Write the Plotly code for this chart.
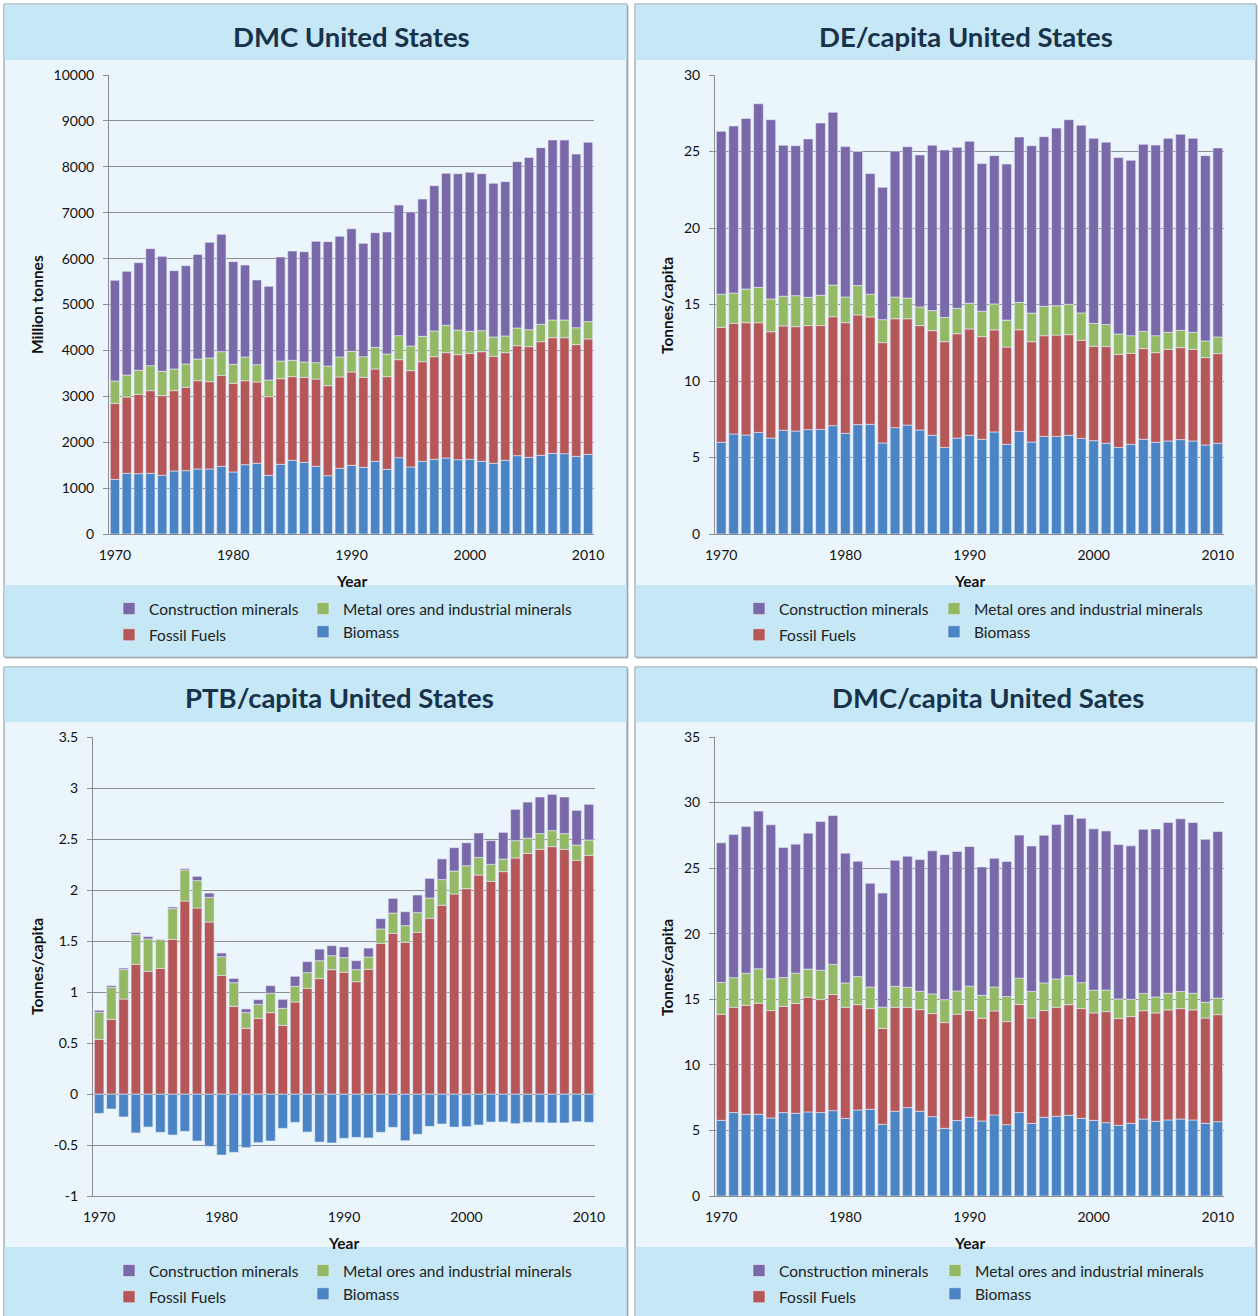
import plotly.graph_objects as go

years = list(range(1970, 2011))

# ---------------- DMC United States (Million tonnes) ----------------
dmc_biomass = [1191, 1322, 1314, 1322, 1278, 1373, 1380, 1416, 1416, 1474,
               1351, 1510, 1540, 1278, 1518, 1605, 1561, 1474, 1271, 1431,
               1496, 1452, 1583, 1409, 1663, 1460, 1583, 1627, 1656, 1619,
               1627, 1583, 1540, 1605, 1707, 1670, 1714, 1757, 1750, 1692, 1736]
dmc_fossil = [1656, 1663, 1728, 1801, 1736, 1750, 1816, 1924, 1903, 1983,
              1932, 1830, 1772, 1714, 1866, 1823, 1852, 1903, 1961, 1990,
              2033, 1961, 2012, 2019, 2135, 2099, 2171, 2237, 2295, 2288,
              2309, 2389, 2331, 2346, 2396, 2411, 2476, 2520, 2527, 2433, 2513]
dmc_metal = [487, 479, 523, 545, 530, 472, 508, 472, 516, 516,
             414, 516, 378, 363, 385, 356, 334, 356, 428, 436,
             450, 450, 472, 494, 523, 537, 552, 559, 595, 537,
             479, 458, 421, 363, 385, 370, 378, 385, 385, 370, 378]
dmc_constr = [2193, 2258, 2346, 2549, 2505, 2142, 2142, 2280, 2520, 2556,
              2237, 2004, 1845, 2041, 2266, 2382, 2404, 2643, 2709, 2629,
              2672, 2469, 2498, 2658, 2847, 2919, 2992, 3166, 3311, 3406,
              3464, 3420, 3348, 3362, 3624, 3754, 3849, 3921, 3921, 3783, 3907]

# ---------------- DE/capita United States ----------------
de_biomass = [5.99, 6.54, 6.47, 6.64, 6.27, 6.78, 6.73, 6.82, 6.84, 7.08,
              6.58, 7.15, 7.17, 5.95, 6.95, 7.12, 6.80, 6.45, 5.66, 6.27,
              6.45, 6.19, 6.67, 5.86, 6.71, 6.01, 6.38, 6.38, 6.45, 6.25,
              6.10, 5.93, 5.66, 5.86, 6.19, 5.99, 6.08, 6.17, 6.08, 5.82, 5.93]
de_fossil = [7.52, 7.23, 7.34, 7.17, 6.95, 6.82, 6.82, 6.80, 6.78, 7.12,
             7.23, 7.17, 7.02, 6.56, 7.12, 6.95, 6.82, 6.84, 6.91, 6.82,
             6.95, 6.71, 6.67, 6.36, 6.64, 6.56, 6.58, 6.62, 6.58, 6.41,
             6.17, 6.32, 6.08, 5.95, 5.93, 5.86, 5.99, 6.01, 5.99, 5.71, 5.86]
de_metal = [2.16, 1.98, 2.20, 2.31, 2.14, 1.94, 2.03, 1.85, 1.98, 2.07,
            1.68, 1.92, 1.48, 1.50, 1.42, 1.35, 1.22, 1.31, 1.59, 1.66,
            1.68, 1.66, 1.70, 1.76, 1.79, 1.87, 1.92, 1.92, 1.98, 1.79,
            1.50, 1.44, 1.33, 1.15, 1.13, 1.11, 1.11, 1.13, 1.11, 1.09, 1.09]
de_constr = [10.65, 10.92, 11.15, 12.00, 11.72, 9.87, 9.80, 10.35, 11.26, 11.29,
             9.83, 8.76, 7.89, 8.65, 9.54, 9.89, 9.93, 10.81, 10.94, 10.52,
             10.59, 9.65, 9.69, 10.20, 10.81, 10.94, 11.09, 11.61, 12.07, 12.27,
             12.09, 11.92, 11.53, 11.46, 12.22, 12.46, 12.68, 12.81, 12.68, 12.11, 12.35]

# ---------------- PTB/capita United States ----------------
ptb_biomass = [-0.190, -0.147, -0.225, -0.382, -0.324, -0.376, -0.402, -0.366, -0.461, -0.513,
               -0.598, -0.572, -0.526, -0.477, -0.461, -0.337, -0.278, -0.373, -0.471, -0.480,
               -0.435, -0.425, -0.431, -0.376, -0.327, -0.458, -0.395, -0.317, -0.294, -0.324,
               -0.320, -0.304, -0.275, -0.275, -0.291, -0.278, -0.281, -0.284, -0.284, -0.271, -0.278]
ptb_fossil = [0.536, 0.732, 0.931, 1.271, 1.203, 1.232, 1.516, 1.892, 1.824, 1.686,
              1.163, 0.859, 0.644, 0.742, 0.797, 0.673, 0.902, 1.036, 1.131, 1.219,
              1.193, 1.101, 1.222, 1.477, 1.575, 1.487, 1.585, 1.722, 1.850, 1.961,
              2.013, 2.147, 2.085, 2.180, 2.314, 2.359, 2.399, 2.425, 2.399, 2.291, 2.340]
ptb_metal = [0.265, 0.314, 0.291, 0.291, 0.317, 0.281, 0.301, 0.304, 0.268, 0.242,
             0.183, 0.232, 0.154, 0.137, 0.190, 0.167, 0.154, 0.154, 0.176, 0.137,
             0.144, 0.118, 0.121, 0.141, 0.199, 0.163, 0.193, 0.199, 0.252, 0.225,
             0.225, 0.173, 0.167, 0.124, 0.170, 0.150, 0.154, 0.157, 0.154, 0.150, 0.150]
ptb_constr = [0.020, 0.016, 0.013, 0.020, 0.023, 0.005, 0.016, 0.013, 0.042, 0.042,
              0.036, 0.042, 0.036, 0.046, 0.075, 0.088, 0.098, 0.108, 0.114, 0.098,
              0.105, 0.088, 0.088, 0.101, 0.144, 0.137, 0.173, 0.193, 0.203, 0.229,
              0.225, 0.239, 0.232, 0.261, 0.307, 0.353, 0.359, 0.356, 0.359, 0.340, 0.350]

# ---------------- DMC/capita United States ----------------
dmcc_biomass = [5.77, 6.36, 6.23, 6.23, 5.95, 6.36, 6.31, 6.41, 6.36, 6.51,
                5.92, 6.56, 6.61, 5.47, 6.46, 6.74, 6.46, 6.05, 5.16, 5.75,
                6.00, 5.72, 6.18, 5.44, 6.36, 5.54, 6.00, 6.08, 6.15, 5.92,
                5.77, 5.59, 5.39, 5.54, 5.87, 5.70, 5.80, 5.87, 5.80, 5.54, 5.67]
dmcc_fossil = [8.09, 8.03, 8.31, 8.47, 8.19, 8.09, 8.37, 8.75, 8.62, 8.85,
               8.47, 8.03, 7.68, 7.30, 7.93, 7.65, 7.75, 7.86, 8.06, 8.11,
               8.14, 7.83, 7.93, 7.86, 8.24, 8.03, 8.14, 8.31, 8.44, 8.37,
               8.19, 8.47, 8.14, 8.14, 8.26, 8.26, 8.39, 8.42, 8.39, 8.03, 8.16]
dmcc_metal = [2.42, 2.26, 2.44, 2.62, 2.42, 2.21, 2.31, 2.14, 2.24, 2.31,
              1.86, 2.14, 1.65, 1.63, 1.60, 1.53, 1.40, 1.50, 1.75, 1.78,
              1.86, 1.75, 1.83, 1.91, 2.01, 2.03, 2.11, 2.16, 2.21, 1.98,
              1.73, 1.65, 1.50, 1.32, 1.32, 1.22, 1.27, 1.30, 1.27, 1.20, 1.27]
dmcc_constr = [10.65, 10.91, 11.19, 12.03, 11.75, 9.92, 9.84, 10.37, 11.34, 11.34,
               9.89, 8.80, 7.91, 8.70, 9.61, 9.99, 10.04, 10.91, 11.06, 10.63,
               10.65, 9.79, 9.81, 10.30, 10.91, 11.09, 11.26, 11.77, 12.28, 12.53,
               12.31, 12.13, 11.77, 11.70, 12.51, 12.81, 13.02, 13.17, 13.02, 12.43, 12.69]

# ---------------- labels / ticks ----------------
series_names = ["Biomass", "Fossil Fuels", "Metal ores and industrial minerals", "Construction minerals"]
x_ticks = [1970, 1980, 1990, 2000, 2010]
dmc_ticks = [0, 1000, 2000, 3000, 4000, 5000, 6000, 7000, 8000, 9000, 10000]
de_ticks = [0, 5, 10, 15, 20, 25, 30]
ptb_ticks = [-1, -0.5, 0, 0.5, 1, 1.5, 2, 2.5, 3, 3.5]
ptb_ticktext = ["-1", "-0.5", "0", "0.5", "1", "1.5", "2", "2.5", "3", "3.5"]
dmcc_ticks = [0, 5, 10, 15, 20, 25, 30, 35]

# ---------------- styling ----------------
W, H = 1258, 1316
FONT = "Lato"
COLORS = ["#4a84c4", "#b55757", "#93b964", "#7a69a9"]
LEG_RANK = [2, 2, 1, 1]          # construction / metal on the first legend row
TITLE_COLOR = "#17324a"
GRID = "#8c8f92"
BAND = "#c6e7f5"
BODY = "#ebf6fc"
BORDER = "#7f8f98"


def fx(px):
    return px / W


def fy(py):
    return 1 - py / H


panels = [
    dict(title="DMC United States", tx=351, ty=37,
         data=[dmc_biomass, dmc_fossil, dmc_metal, dmc_constr],
         xd=(109, 594), yd=(75, 534), yr=[0, 10000],
         tv=dmc_ticks, tt=[str(v) for v in dmc_ticks],
         ytitle="Million tonnes", ytx=37, yty=305, xtx=351, xty=581,
         box=(4, 4, 627, 657), band1=60, band2=585,
         leg=(109, 592), leg2=(303, 592)),
    dict(title="DE/capita United States", tx=966, ty=37,
         data=[de_biomass, de_fossil, de_metal, de_constr],
         xd=(715, 1224), yd=(75, 534), yr=[0, 30],
         tv=de_ticks, tt=[str(v) for v in de_ticks],
         ytitle="Tonnes/capita", ytx=667, yty=305, xtx=969, xty=581,
         box=(635, 4, 1256, 657), band1=60, band2=585,
         leg=(739, 592), leg2=(934, 592)),
    dict(title="PTB/capita United States", tx=339, ty=698,
         data=[ptb_biomass, ptb_fossil, ptb_metal, ptb_constr],
         xd=(93, 595), yd=(737, 1196), yr=[-1, 3.5],
         tv=ptb_ticks, tt=ptb_ticktext,
         ytitle="Tonnes/capita", ytx=37, yty=967, xtx=343, xty=1243,
         box=(4, 667, 627, 1322), band1=722, band2=1247,
         leg=(109, 1254), leg2=(303, 1254)),
    dict(title="DMC/capita United Sates", tx=988, ty=698,
         data=[dmcc_biomass, dmcc_fossil, dmcc_metal, dmcc_constr],
         xd=(715, 1224), yd=(737, 1196), yr=[0, 35],
         tv=dmcc_ticks, tt=[str(v) for v in dmcc_ticks],
         ytitle="Tonnes/capita", ytx=667, yty=967, xtx=969, xty=1243,
         box=(635, 667, 1256, 1322), band1=722, band2=1247,
         leg=(739, 1254), leg2=(935, 1254)),
]

fig = go.Figure()
shapes = []
annotations = []
layout = {}

for i, p in enumerate(panels):
    n = i + 1
    xa = "x" if n == 1 else f"x{n}"
    ya = "y" if n == 1 else f"y{n}"
    legL = "legend" if i == 0 else f"legend{2 * i + 1}"
    legR = f"legend{2 * i + 2}"
    for k, (name, vals, col) in enumerate(zip(series_names, p["data"], COLORS)):
        fig.add_trace(go.Bar(
            x=years, y=vals, name=name, xaxis=xa, yaxis=ya,
            marker=dict(color=col, line=dict(color="rgba(235,235,250,0.75)", width=0.8)),
            legend=legL if k in (1, 3) else legR,
            legendgroup=f"p{n}s{k}",
            legendrank=LEG_RANK[k],
            showlegend=True,
        ))

    x0, y0, x1, y1 = p["box"]
    shapes += [
        dict(type="rect", xref="paper", yref="paper", layer="below",
             x0=fx(x0 + 1.5), x1=fx(x1 + 1.5), y0=fy(y1 + 1.5), y1=fy(y0 + 1.5),
             fillcolor="#b9bfc3", line=dict(width=0)),
        dict(type="rect", xref="paper", yref="paper", layer="below",
             x0=fx(x0), x1=fx(x1), y0=fy(y1), y1=fy(y0),
             fillcolor=BODY, line=dict(color=BORDER, width=1)),
        dict(type="rect", xref="paper", yref="paper", layer="below",
             x0=fx(x0 + 0.5), x1=fx(x1 - 0.5), y0=fy(p["band1"]), y1=fy(y0 + 0.5),
             fillcolor=BAND, line=dict(width=0)),
        dict(type="rect", xref="paper", yref="paper", layer="below",
             x0=fx(x0 + 0.5), x1=fx(x1 - 0.5), y0=fy(y1 - 0.5), y1=fy(p["band2"]),
             fillcolor=BAND, line=dict(width=0)),
    ]

    axis_common = dict(showline=True, linecolor=GRID, linewidth=1, automargin=False,
                       tickfont=dict(family=FONT, size=14, color="#111"))
    layout["xaxis" if n == 1 else f"xaxis{n}"] = dict(
        domain=[fx(p["xd"][0]), fx(p["xd"][1])], anchor=ya,
        range=[1969.5, 2010.5], tickvals=x_ticks, ticks="",
        ticklabelstandoff=8, showgrid=False, zeroline=False, **axis_common)
    layout["yaxis" if n == 1 else f"yaxis{n}"] = dict(
        domain=[fy(p["yd"][1]), fy(p["yd"][0])], anchor=xa,
        range=p["yr"], tickvals=p["tv"], ticktext=p["tt"],
        ticks="outside", ticklen=5, tickcolor=GRID, ticklabelstandoff=6,
        showgrid=True, gridcolor=GRID, gridwidth=1,
        zeroline=True, zerolinecolor=GRID, zerolinewidth=1, **axis_common)

    annotations += [
        dict(text=f"<b>{p['title']}</b>", x=fx(p["tx"]), y=fy(p["ty"]),
             xref="paper", yref="paper", showarrow=False,
             xanchor="center", yanchor="middle",
             font=dict(family=FONT, size=27.5, color=TITLE_COLOR)),
        dict(text="<b>Year</b>", x=fx(p["xtx"]), y=fy(p["xty"]),
             xref="paper", yref="paper", showarrow=False,
             xanchor="center", yanchor="middle",
             font=dict(family=FONT, size=15.5, color="#111")),
        dict(text=f"<b>{p['ytitle']}</b>", x=fx(p["ytx"]), y=fy(p["yty"]),
             xref="paper", yref="paper", showarrow=False, textangle=-90,
             xanchor="center", yanchor="middle",
             font=dict(family=FONT, size=15.5, color="#111")),
    ]

    for name, pos, gap in ((legL, p["leg"], 3), (legR, p["leg2"], 0)):
        layout[name] = dict(
            x=fx(pos[0]), y=fy(pos[1]), xanchor="left", yanchor="top",
            orientation="v", traceorder="grouped", bgcolor="rgba(0,0,0,0)",
            borderwidth=0, itemwidth=30, tracegroupgap=gap,
            font=dict(family=FONT, size=15.5, color="#222"))

fig.update_layout(
    width=W, height=H,
    margin=dict(l=0, r=0, t=0, b=0, pad=0, autoexpand=False),
    paper_bgcolor="white", plot_bgcolor="rgba(0,0,0,0)",
    barmode="relative", bargap=0.22,
    shapes=shapes, annotations=annotations,
    font=dict(family=FONT, size=14, color="#111"),
    **layout,
)

fig.write_html("out.html", config={"displayModeBar": False},
               post_script="document.body.style.margin='0';")
